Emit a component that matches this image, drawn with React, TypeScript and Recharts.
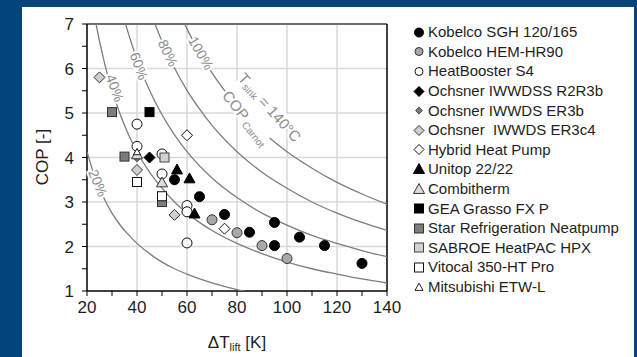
import React from 'react';
import { ScatterChart, Scatter, XAxis, YAxis, ReferenceLine } from 'recharts';

// axis ticks
const liftTicks = [20, 30, 40, 50, 60, 70, 80, 90, 100, 110, 120, 130, 140];
const copTicks = [1, 1.5, 2, 2.5, 3, 3.5, 4, 4.5, 5, 5.5, 6, 6.5, 7];
const gridLift = [40, 60, 80, 100, 120];
const gridCop = [2, 3, 4, 5, 6];

// Carnot efficiency curves (T_sink = 140 °C)
const lift100 = [55, 60, 65, 70, 80, 90, 100, 110, 120, 130, 140];
const cop100 = [7.51, 6.89, 6.36, 5.9, 5.16, 4.59, 4.13, 3.76, 3.44, 3.18, 2.95];
const lift80 = [42, 45, 50, 55, 60, 65, 70, 80, 90, 100, 110, 120, 130, 140];
const cop80 = [7.87, 7.34, 6.61, 6.01, 5.51, 5.09, 4.72, 4.13, 3.67, 3.31, 3.0, 2.75, 2.54, 2.36];
const lift60 = [33, 36, 40, 45, 50, 55, 60, 70, 80, 90, 100, 110, 120, 130, 140];
const cop60 = [7.51, 6.89, 6.2, 5.51, 4.96, 4.51, 4.13, 3.54, 3.1, 2.75, 2.48, 2.25, 2.07, 1.91, 1.77];
const lift40 = [22, 24, 26, 28, 30, 33, 36, 40, 45, 50, 55, 60, 70, 80, 90, 100, 110, 120, 130, 140];
const cop40 = [7.51, 6.89, 6.36, 5.9, 5.51, 5.01, 4.59, 4.13, 3.67, 3.31, 3.0, 2.75, 2.36, 2.07, 1.84, 1.65, 1.5, 1.38, 1.27, 1.18];
const lift20 = [20, 22, 24, 26, 28, 30, 33, 36, 40, 45, 50, 55, 60, 70, 80, 90];
const cop20 = [4.13, 3.76, 3.44, 3.18, 2.95, 2.75, 2.5, 2.3, 2.07, 1.84, 1.65, 1.5, 1.38, 1.18, 1.03, 0.92];

// heat pump products
const kobelcoSghLift = [55, 65, 75, 85, 95, 95, 105, 115, 130];
const kobelcoSghCop = [3.5, 3.12, 2.72, 2.32, 2.54, 2.02, 2.21, 2.02, 1.62];
const kobelcoHemLift = [70, 80, 90, 100];
const kobelcoHemCop = [2.6, 2.31, 2.02, 1.73];
const heatBoosterLift = [40, 40, 50, 50, 60, 60, 60];
const heatBoosterCop = [4.75, 4.25, 4.08, 3.63, 2.92, 2.78, 2.08];
const ochsnerR2R3bLift = [45];
const ochsnerR2R3bCop = [4.0];
const ochsnerEr3bLift = [40];
const ochsnerEr3bCop = [3.98];
const ochsnerEr3c4Lift = [25, 40, 55];
const ochsnerEr3c4Cop = [5.8, 3.72, 2.71];
const hybridLift = [60, 75];
const hybridCop = [4.5, 2.4];
const unitopLift = [56, 61, 63];
const unitopCop = [3.72, 3.52, 2.73];
const combithermLift = [40, 50];
const combithermCop = [4.06, 3.43];
const geaLift = [45];
const geaCop = [5.02];
const starLift = [30, 35, 50];
const starCop = [5.02, 4.02, 3.0];
const sabroeLift = [51];
const sabroeCop = [4.0];
const vitocalLift = [40, 50];
const vitocalCop = [3.45, 3.13];
const mitsubishiLift = [40];
const mitsubishiCop = [4.12];

const zip = (xs: number[], ys: number[]) => xs.map((x, i) => ({ x, y: ys[i] }));

type Kind = 'circle' | 'diamond' | 'triangle' | 'square';

function Mark({ kind, cx, cy, size, fill, stroke }: { kind: Kind; cx: number; cy: number; size: number; fill: string; stroke: string }) {
  const r = size / 2;
  if (kind === 'circle') return <circle cx={cx} cy={cy} r={r} fill={fill} stroke={stroke} strokeWidth={1} />;
  if (kind === 'square') return <rect x={cx - r} y={cy - r} width={size} height={size} fill={fill} stroke={stroke} strokeWidth={1} />;
  if (kind === 'diamond')
    return <polygon points={`${cx},${cy - r} ${cx + r},${cy} ${cx},${cy + r} ${cx - r},${cy}`} fill={fill} stroke={stroke} strokeWidth={1} />;
  const h = size * 0.9;
  return (
    <polygon
      points={`${cx},${cy - h * 0.6} ${cx + r},${cy + h * 0.4} ${cx - r},${cy + h * 0.4}`}
      fill={fill}
      stroke={stroke}
      strokeWidth={1}
    />
  );
}

const series = [
  { name: 'Kobelco SGH 120/165', lift: kobelcoSghLift, cop: kobelcoSghCop, kind: 'circle' as Kind, size: 10, legendSize: 9, fill: '#000', stroke: '#000' },
  { name: 'Kobelco HEM-HR90', lift: kobelcoHemLift, cop: kobelcoHemCop, kind: 'circle' as Kind, size: 10, legendSize: 8, fill: '#a8a8a8', stroke: '#333' },
  { name: 'HeatBooster S4', lift: heatBoosterLift, cop: heatBoosterCop, kind: 'circle' as Kind, size: 10, legendSize: 8, fill: '#fff', stroke: '#111' },
  { name: 'Ochsner IWWDSS R2R3b', lift: ochsnerR2R3bLift, cop: ochsnerR2R3bCop, kind: 'diamond' as Kind, size: 11, legendSize: 10, fill: '#000', stroke: '#000' },
  { name: 'Ochsner IWWDS ER3b', lift: ochsnerEr3bLift, cop: ochsnerEr3bCop, kind: 'diamond' as Kind, size: 7, legendSize: 7, fill: '#777', stroke: '#555' },
  { name: 'Ochsner  IWWDS ER3c4', lift: ochsnerEr3c4Lift, cop: ochsnerEr3c4Cop, kind: 'diamond' as Kind, size: 11, legendSize: 10, fill: '#cfcfcf', stroke: '#333' },
  { name: 'Hybrid Heat Pump', lift: hybridLift, cop: hybridCop, kind: 'diamond' as Kind, size: 11, legendSize: 10, fill: '#fff', stroke: '#111' },
  { name: 'Unitop 22/22', lift: unitopLift, cop: unitopCop, kind: 'triangle' as Kind, size: 11, legendSize: 11, fill: '#000', stroke: '#000' },
  { name: 'Combitherm', lift: combithermLift, cop: combithermCop, kind: 'triangle' as Kind, size: 11, legendSize: 11, fill: '#dcdcdc', stroke: '#333' },
  { name: 'GEA Grasso FX P', lift: geaLift, cop: geaCop, kind: 'square' as Kind, size: 9, legendSize: 9, fill: '#000', stroke: '#000' },
  { name: 'Star Refrigeration Neatpump', lift: starLift, cop: starCop, kind: 'square' as Kind, size: 9, legendSize: 9, fill: '#7c7c7c', stroke: '#333' },
  { name: 'SABROE HeatPAC HPX', lift: sabroeLift, cop: sabroeCop, kind: 'square' as Kind, size: 9, legendSize: 9, fill: '#d2d2d2', stroke: '#444' },
  { name: 'Vitocal 350-HT Pro', lift: vitocalLift, cop: vitocalCop, kind: 'square' as Kind, size: 9, legendSize: 9, fill: '#fff', stroke: '#111' },
  { name: 'Mitsubishi ETW-L', lift: mitsubishiLift, cop: mitsubishiCop, kind: 'triangle' as Kind, size: 7, legendSize: 8, fill: '#fff', stroke: '#222' },
];

const curves = [
  { name: '100%', lift: lift100, cop: cop100 },
  { name: '80%', lift: lift80, cop: cop80 },
  { name: '60%', lift: lift60, cop: cop60 },
  { name: '40%', lift: lift40, cop: cop40 },
  { name: '20%', lift: lift20, cop: cop20 },
];

const font = '"Liberation Sans", Arial, sans-serif';
const curveGray = '#7d7d7d';
const labelGray = '#8c8c8c';

const halo = { stroke: '#fff', strokeWidth: 4, paintOrder: 'stroke' as const, strokeLinejoin: 'round' as const };

export default function App() {
  return (
    <div style={{ position: 'absolute', left: 0, top: 0, width: 637, height: 357, background: '#02457c', overflow: 'hidden' }}>
      <div style={{ position: 'absolute', left: 22, top: 7, width: 612, height: 350, background: '#fff' }} />
      <div style={{ position: 'absolute', left: 0, top: 0 }}>
        <ScatterChart width={637} height={357} margin={{ top: 24, right: 250, bottom: 36, left: 47 }}>
          <XAxis
            type="number"
            dataKey="x"
            domain={[20, 140]}
            ticks={liftTicks}
            interval={0}
            tickFormatter={(v: number) => (v % 20 === 0 ? String(v) : '')}
            height={30}
            tickSize={5}
            tickMargin={5}
            axisLine={{ stroke: '#000', strokeWidth: 1.5 }}
            tickLine={{ stroke: '#000', strokeWidth: 1 }}
            tick={{ fontSize: 17, fill: '#1e1e1e', fontFamily: font }}
            allowDataOverflow
          />
          <YAxis
            type="number"
            dataKey="y"
            domain={[1, 7]}
            ticks={copTicks}
            interval={0}
            tickFormatter={(v: number) => (Number.isInteger(v) ? String(v) : '')}
            width={40}
            tickSize={5}
            tickMargin={8}
            axisLine={{ stroke: '#000', strokeWidth: 1.5 }}
            tickLine={{ stroke: '#000', strokeWidth: 1 }}
            tick={{ fontSize: 17, fill: '#1e1e1e', fontFamily: font }}
            allowDataOverflow
          />
          {gridLift.map((v) => (
            <ReferenceLine key={`gx${v}`} x={v} stroke="#d9d9d9" strokeWidth={1.5} />
          ))}
          {gridCop.map((v) => (
            <ReferenceLine key={`gy${v}`} y={v} stroke="#d9d9d9" strokeWidth={1.5} />
          ))}
          <ReferenceLine y={7} stroke="#6f6f6f" strokeWidth={2} />
          <ReferenceLine x={140} stroke="#000" strokeWidth={1.5} />
          {curves.map((c) => (
            <Scatter
              key={c.name}
              name={c.name}
              data={zip(c.lift, c.cop)}
              line={{ stroke: curveGray, strokeWidth: 1.3 }}
              lineJointType="monotoneX"
              shape={() => <g />}
              isAnimationActive={false}
            />
          ))}
          {series.map((s) => (
            <Scatter
              key={s.name}
              name={s.name}
              data={zip(s.lift, s.cop)}
              shape={(p: any) => <Mark kind={s.kind} cx={p.cx} cy={p.cy} size={s.size} fill={s.fill} stroke={s.stroke} />}
              isAnimationActive={false}
            />
          ))}
        </ScatterChart>
      </div>
      <svg width={637} height={357} style={{ position: 'absolute', left: 0, top: 0, pointerEvents: 'none' }} fontFamily={font}>
        {/* white backing behind the Carnot label, breaks the 100% curve */}
        <rect x={-31} y={-28} width={64} height={37} fill="#fff" transform="translate(248 113) rotate(47)" />
        <g fill={labelGray} fontSize={14} {...halo}>
          <text x={98} y={183} transform="rotate(68 98 183)" textAnchor="middle" dominantBaseline="central">20%</text>
          <text x={115} y={88} transform="rotate(70 115 88)" textAnchor="middle" dominantBaseline="central">40%</text>
          <text x={139} y={66} transform="rotate(70 139 66)" textAnchor="middle" dominantBaseline="central">60%</text>
          <text x={168} y={53} transform="rotate(65 168 53)" textAnchor="middle" dominantBaseline="central">80%</text>
          <text x={201} y={53} transform="rotate(60 201 53)" textAnchor="middle" dominantBaseline="central">100%</text>
          <text x={270} y={107} transform="rotate(48 270 107)" textAnchor="middle" dominantBaseline="central" fontSize={15}>
            T<tspan fontSize={10} dy={4}>sink</tspan>
            <tspan dy={-4}> = 140°C</tspan>
          </text>
          <text x={246} y={118} transform="rotate(52 246 118)" textAnchor="middle" dominantBaseline="central" fontSize={15}>
            COP<tspan fontSize={10} dy={4}> Carnot</tspan>
          </text>
        </g>
        <text x={42} y={157} transform="rotate(-90 42 157)" textAnchor="middle" dominantBaseline="central" fontSize={17} fill="#1e1e1e">
          COP [-]
        </text>
        <text x={237} y={348} textAnchor="middle" fontSize={17} fill="#1e1e1e">
          ΔT<tspan fontSize={11} dy={3}>lift</tspan>
          <tspan dy={-3}> [K]</tspan>
        </text>
      </svg>
      <div style={{ position: 'absolute', left: 412, top: 22, fontFamily: font, fontSize: 15, color: '#1e1e1e' }}>
        {series.map((s) => (
          <div key={s.name} style={{ height: 19.6, display: 'flex', alignItems: 'center', whiteSpace: 'pre' }}>
            <svg width={14} height={14} style={{ flex: 'none' }}>
              <Mark kind={s.kind} cx={7} cy={7.5} size={s.legendSize} fill={s.fill} stroke={s.stroke} />
            </svg>
            <span style={{ marginLeft: 2 }}>{s.name}</span>
          </div>
        ))}
      </div>
    </div>
  );
}
